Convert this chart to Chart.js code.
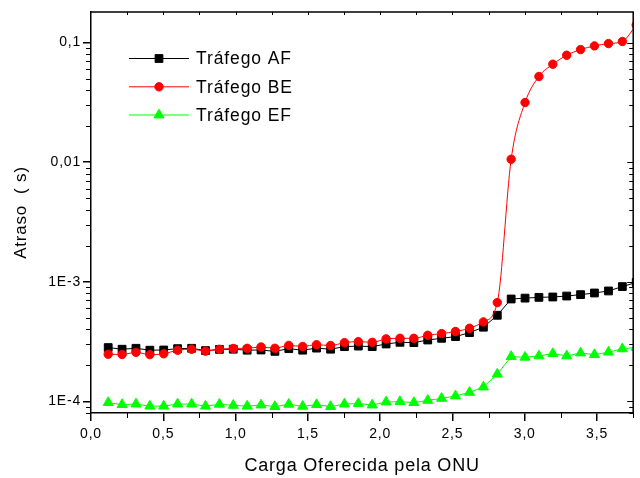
<!DOCTYPE html>
<html><head><meta charset="utf-8">
<script src="https://cdn.jsdelivr.net/npm/chart.js@4/dist/chart.umd.min.js"></script>
<style>html,body{margin:0;padding:0;background:#fff}#wrap{width:640px;height:478px}</style>
</head><body><div id="wrap"><canvas id="c" width="640" height="478"></canvas></div>
<script>
const xLoad = [0.119, 0.215, 0.311, 0.407, 0.503, 0.599, 0.696, 0.792, 0.888, 0.984,
  1.080, 1.176, 1.272, 1.368, 1.464, 1.560, 1.657, 1.753, 1.849, 1.945,
  2.041, 2.137, 2.233, 2.329, 2.425, 2.521, 2.618, 2.714, 2.810, 2.906,
  3.002, 3.098, 3.194, 3.290, 3.386, 3.482, 3.579, 3.675, 3.771];
const delayAF = [2.82e-4, 2.73e-4, 2.78e-4, 2.68e-4, 2.69e-4, 2.76e-4, 2.78e-4, 2.66e-4, 2.72e-4, 2.73e-4,
  2.68e-4, 2.69e-4, 2.62e-4, 2.76e-4, 2.68e-4, 2.79e-4, 2.73e-4, 2.87e-4, 2.90e-4, 2.87e-4,
  3.02e-4, 3.12e-4, 3.10e-4, 3.26e-4, 3.37e-4, 3.48e-4, 3.76e-4, 4.17e-4, 5.25e-4, 7.18e-4,
  7.30e-4, 7.41e-4, 7.46e-4, 7.60e-4, 7.81e-4, 8.06e-4, 8.38e-4, 9.12e-4, 9.88e-4];
const delayBE = [2.48e-4, 2.47e-4, 2.57e-4, 2.46e-4, 2.50e-4, 2.68e-4, 2.73e-4, 2.63e-4, 2.73e-4, 2.77e-4,
  2.78e-4, 2.85e-4, 2.78e-4, 2.94e-4, 2.88e-4, 2.98e-4, 2.93e-4, 3.10e-4, 3.16e-4, 3.12e-4,
  3.33e-4, 3.37e-4, 3.37e-4, 3.57e-4, 3.69e-4, 3.84e-4, 4.09e-4, 4.62e-4, 6.70e-4, 0.01057,
  0.0315, 0.0520, 0.0659, 0.0783, 0.0873, 0.0937, 0.0980, 0.1020, 0.140];
const delayEF = [9.77e-5, 9.40e-5, 9.50e-5, 9.13e-5, 9.13e-5, 9.50e-5, 9.50e-5, 9.13e-5, 9.46e-5, 9.27e-5,
  9.13e-5, 9.33e-5, 9.05e-5, 9.46e-5, 9.10e-5, 9.40e-5, 9.05e-5, 9.50e-5, 9.60e-5, 9.33e-5,
  9.89e-5, 9.95e-5, 9.77e-5, 1.02e-4, 1.06e-4, 1.11e-4, 1.19e-4, 1.32e-4, 1.69e-4, 2.37e-4,
  2.34e-4, 2.40e-4, 2.51e-4, 2.40e-4, 2.54e-4, 2.46e-4, 2.58e-4, 2.75e-4, 2.83e-4];
const seriesLabels = ['Tráfego AF', 'Tráfego BE', 'Tráfego EF'];
const xTickValues = [0, 0.5, 1, 1.5, 2, 2.5, 3, 3.5];
const xTickLabels = ['0,0', '0,5', '1,0', '1,5', '2,0', '2,5', '3,0', '3,5'];
const yTickValues = [1e-4, 1e-3, 1e-2, 1e-1];
const yTickLabels = ['1E-4', '1E-3', '0,01', '0,1'];
const xTitle = 'Carga Oferecida pela ONU';
const yTitle = 'Atraso  ( s)';

const FONT = "'Liberation Sans', Arial, sans-serif";
const pts = arr => arr.map((v, i) => ({x: xLoad[i], y: v}));

const spacingPlugin = {
  id: 'spacing',
  beforeLayout(chart) { chart.ctx.letterSpacing = '0.8px'; },
  beforeDraw(chart) { chart.ctx.letterSpacing = '0.8px'; }
};

function drawMarker(ctx, style, x, y, r, color) {
  ctx.save();
  ctx.fillStyle = color; ctx.strokeStyle = color; ctx.lineWidth = 1;
  ctx.beginPath();
  if (style === 'rect') {
    const s = Math.SQRT1_2 * r;
    ctx.rect(x - s, y - s, 2 * s, 2 * s);
  } else if (style === 'circle') {
    ctx.arc(x, y, r, 0, Math.PI * 2);
  } else {
    for (let k = 0; k < 3; k++) {
      const a = k * 2 * Math.PI / 3;
      const px = x + Math.sin(a) * r, py = y - Math.cos(a) * r;
      if (k === 0) ctx.moveTo(px, py); else ctx.lineTo(px, py);
    }
    ctx.closePath();
  }
  ctx.fill(); ctx.stroke();
  ctx.restore();
}

const framePlugin = {
  id: 'frame',
  afterDraw(chart) {
    const {ctx, chartArea: a, scales: {x, y}} = chart;
    ctx.save();
    ctx.strokeStyle = '#000';
    ctx.lineWidth = 1.5;
    ctx.beginPath();
    ctx.moveTo(a.left, a.top); ctx.lineTo(a.right, a.top); ctx.lineTo(a.right, a.bottom);
    ctx.stroke();
    ctx.lineWidth = 1;
    ctx.beginPath();
    for (let d = -5; d <= -1; d++) {
      for (let k = 1; k <= 9; k++) {
        const v = k * Math.pow(10, d);
        if (v < y.min * 0.999 || v > y.max) continue;
        const py = Math.round(y.getPixelForValue(v)) + 0.5;
        if (k !== 1) { ctx.moveTo(a.left - 5, py); ctx.lineTo(a.left, py); }
        const len = k === 1 ? 6 : 4;
        ctx.moveTo(a.right, py); ctx.lineTo(a.right - len, py);
      }
    }
    for (let i = 0; i <= 15; i++) {
      const v = i * 0.25;
      if (v > x.max) continue;
      const px = Math.round(x.getPixelForValue(v)) + 0.5;
      if (i % 2 === 1) { ctx.moveTo(px, a.bottom); ctx.lineTo(px, a.bottom + 5); }
      if (i > 0) { ctx.moveTo(px, a.top); ctx.lineTo(px, a.top + 3); }
    }
    ctx.stroke();
    ctx.restore();

    const rows = [58.5, 86.8, 115];
    ctx.save();
    ctx.font = '17.5px ' + FONT;
    ctx.letterSpacing = '0.9px';
    ctx.textBaseline = 'middle';
    chart.data.datasets.forEach((ds, i) => {
      const ry = rows[i];
      ctx.strokeStyle = ds.borderColor; ctx.lineWidth = 1;
      ctx.beginPath(); ctx.moveTo(129, ry); ctx.lineTo(189, ry); ctx.stroke();
      drawMarker(ctx, ds.pointStyle, 159, ry, ds.pointRadius, ds.borderColor);
      ctx.fillStyle = '#000';
      ctx.fillText(ds.label, 196, ry + 1);
    });
    ctx.restore();
  }
};

const axisCommon = {
  grid: {display: true, drawOnChartArea: false, drawTicks: true, tickLength: 8, color: '#000', lineWidth: 1.5},
  border: {display: true, color: '#000', width: 1.5}
};

new Chart(document.getElementById('c'), {
  type: 'line',
  data: {
    datasets: [
      {label: seriesLabels[0], data: pts(delayAF), borderColor: '#000000', backgroundColor: '#000000',
       pointStyle: 'rect', pointRadius: 5.5, borderWidth: 1, pointBorderWidth: 1, tension: 0, order: 2, clip: 0},
      {label: seriesLabels[1], data: pts(delayBE), borderColor: '#ff0000', backgroundColor: '#ff0000',
       pointStyle: 'circle', pointRadius: 4.2, borderWidth: 1, pointBorderWidth: 1, cubicInterpolationMode: 'monotone', order: 1, clip: 0},
      {label: seriesLabels[2], data: pts(delayEF), borderColor: '#00ff00', backgroundColor: '#00ff00',
       pointStyle: 'triangle', pointRadius: 5.8, borderWidth: 1, pointBorderWidth: 1, tension: 0, order: 3, clip: 0}
    ]
  },
  options: {
    responsive: false, animation: false, devicePixelRatio: 1,
    layout: {padding: {left: 0, right: 3, top: 12, bottom: 0}},
    plugins: {legend: {display: false}, tooltip: {enabled: false}},
    scales: {
      x: Object.assign({}, axisCommon, {
        type: 'linear', min: 0, max: 3.75,
        afterBuildTicks: s => { s.ticks = xTickValues.map(v => ({value: v})); },
        afterFit: s => { s.height = 65; },
        ticks: {autoSkip: false, maxRotation: 0, padding: 5, color: '#000', font: {family: FONT, size: 14},
          callback: (v, i) => xTickLabels[i]},
        title: {display: true, text: xTitle, color: '#000', font: {family: FONT, size: 18}, padding: {top: 0, bottom: 1}}
      }),
      y: Object.assign({}, axisCommon, {
        type: 'logarithmic', min: 8e-5, max: 0.18,
        afterBuildTicks: s => { s.ticks = yTickValues.map(v => ({value: v})); },
        afterFit: s => { s.width = 91; },
        ticks: {autoSkip: false, padding: 2, color: '#000', font: {family: FONT, size: 14},
          callback: (v, i) => yTickLabels[i]},
        title: {display: true, text: yTitle, color: '#000', font: {family: FONT, size: 17}, padding: {top: 11, bottom: 0}}
      })
    }
  },
  plugins: [spacingPlugin, framePlugin]
});
</script></body></html>
